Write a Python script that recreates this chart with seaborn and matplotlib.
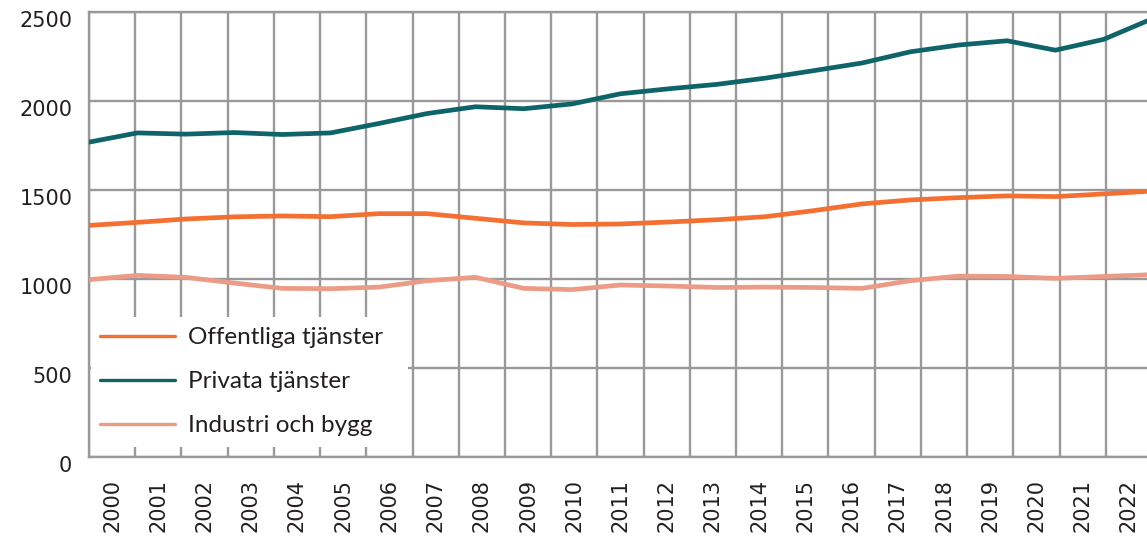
import matplotlib
matplotlib.use("Agg")
import matplotlib.pyplot as plt
import matplotlib.transforms as mtrans
from matplotlib.lines import Line2D
from matplotlib.patches import Rectangle
import numpy as np
import pandas as pd
import seaborn as sns

years = [str(y) for y in range(2000, 2023)]
offentliga = [1302, 1319, 1338, 1350, 1355, 1351, 1368, 1368, 1342, 1316, 1307, 1310,
              1321, 1334, 1351, 1385, 1423, 1445, 1458, 1468, 1464, 1479, 1495]
privata = [1770, 1822, 1815, 1824, 1813, 1822, 1875, 1931, 1969, 1958, 1985, 2042,
           2070, 2095, 2130, 2172, 2215, 2278, 2316, 2340, 2287, 2348, 2463]
industri = [997, 1021, 1010, 978, 948, 946, 955, 991, 1010, 948, 941, 967,
            961, 953, 955, 953, 948, 991, 1017, 1015, 1004, 1015, 1025]
series = ["Offentliga tjänster", "Privata tjänster", "Industri och bygg"]
colors = {"Offentliga tjänster": "#F37032",
          "Privata tjänster": "#0F6469",
          "Industri och bygg": "#EC9B86"}
yticks = [0, 500, 1000, 1500, 2000, 2500]

sns.set_theme(style="white")
plt.rcParams["font.family"] = ["Lato", "DejaVu Sans"]

n = len(years)
# the lines run from edge to edge across the year bands
pos = np.arange(n) * n / (n - 1)
df = pd.DataFrame({
    "pos": np.tile(pos, 3),
    "value": offentliga + privata + industri,
    "serie": np.repeat(series, n),
})

W, H = 1147, 539
fig = plt.figure(figsize=(W / 100, H / 100), dpi=100)
ax = fig.add_axes([89 / W, 82 / H, 1063 / W, 444.7 / H])

sns.lineplot(data=df, x="pos", y="value", hue="serie", hue_order=series,
             palette=colors, linewidth=3.4, ax=ax, legend=False, zorder=3)

grid_c = "#999999"
txt_c = "#231f20"
ax.set_xlim(0, n)
ax.set_ylim(0, 2500)
ax.set_xticks(np.arange(n + 1))
ax.set_xticklabels([])
ax.set_xticks(np.arange(n) + 0.5, minor=True)
ax.set_xticklabels(years, minor=True, rotation=90, va="top", family="DejaVu Sans")
ax.set_yticks(yticks)
ax.set_yticklabels([str(v) for v in yticks], family="DejaVu Sans")
ax.set_xlabel("")
ax.set_ylabel("")
ax.grid(True, which="major", color=grid_c, linewidth=1.7)
ax.tick_params(which="both", length=0, labelsize=15, labelcolor=txt_c)
ax.tick_params(axis="y", pad=12)
ax.tick_params(axis="x", which="minor", pad=16)
for s in ["left", "bottom", "top"]:
    ax.spines[s].set_color(grid_c)
    ax.spines[s].set_linewidth(1.7)
ax.spines["right"].set_visible(False)

# y labels sit a little below their gridlines
off = mtrans.ScaledTranslation(0, -0.07, fig.dpi_scale_trans)
for lab in ax.get_yticklabels():
    lab.set_transform(lab.get_transform() + off)

# white box behind the legend, covering the grid
fig.add_artist(Rectangle((91 / W, 1 - 447 / H), 317 / W, 130 / H,
                         transform=fig.transFigure, facecolor="white",
                         edgecolor="none", zorder=1))
handles = [Line2D([], [], color=colors[s], linewidth=2.4) for s in series]
leg = fig.legend(handles, series, loc="upper left", frameon=False,
                 bbox_to_anchor=(100 / W, 1 - 327 / H), bbox_transform=fig.transFigure,
                 fontsize=17.5, handlelength=3.1, handletextpad=0.5,
                 labelspacing=0.95, borderpad=0, borderaxespad=0)
leg.set_zorder(5)
for t in leg.get_texts():
    t.set_color(txt_c)

fig.savefig("out.png", dpi=100)
